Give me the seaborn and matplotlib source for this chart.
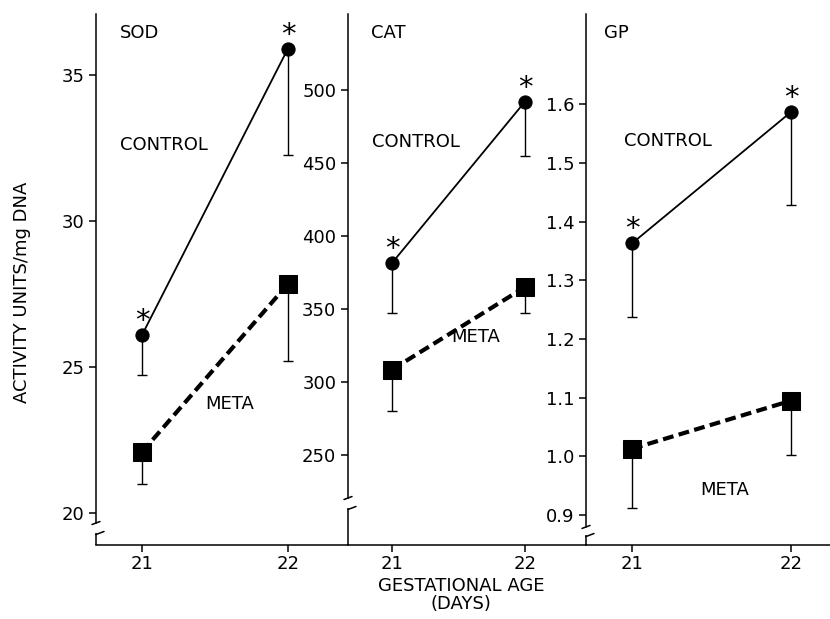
#!/usr/bin/env python3
# Imports
import matplotlib
matplotlib.use('Agg')
import matplotlib.pyplot as plt
import seaborn as sns
import pandas as pd

# Data
days = [21, 22]

sod_control = [26.1, 35.9]
sod_control_low = [24.75, 32.25]
sod_meta = [22.1, 27.85]
sod_meta_low = [21.0, 25.2]

cat_control = [381.5, 492.0]
cat_control_low = [347.5, 455.0]
cat_meta = [308.5, 365.0]
cat_meta_low = [280.0, 347.0]

gp_control = [1.363, 1.587]
gp_control_low = [1.238, 1.429]
gp_meta = [1.013, 1.095]
gp_meta_low = [0.912, 1.002]

panel_names = ['SOD', 'CAT', 'GP']
sod_ticks = [20, 25, 30, 35]
cat_ticks = [250, 300, 350, 400, 450, 500]
gp_ticks = [0.9, 1.0, 1.1, 1.2, 1.3, 1.4, 1.5, 1.6]
x_tick_labels = ['21', '22']


def build_frame(control, control_low, meta, meta_low) -> pd.DataFrame:
    """
    Long table of one panel's means and lower error ends
    """
    return pd.DataFrame({
        'day': days * 2,
        'group': ['CONTROL'] * 2 + ['META'] * 2,
        'mean': control + meta,
        'low': control_low + meta_low,
    })


def draw_break(ax, fig, gap_lo, gap_hi, lw):
    """
    Split the left spine into two pieces with small slanted ends
    """
    y0, y1 = ax.get_ylim()
    hi_data = y0 + gap_hi * (y1 - y0)
    ax.spines['left'].set_bounds(hi_data, y1)
    ax.plot([0, 0], [0, gap_lo], transform=ax.transAxes, color='black',
            lw=lw, clip_on=False, solid_capstyle='butt')
    # pixel size of the axes for the small slanted strokes
    bbox = ax.get_position()
    w_px = bbox.width * fig.get_figwidth() * fig.dpi
    h_px = bbox.height * fig.get_figheight() * fig.dpi
    dx = 4 / w_px
    dy = 1.5 / h_px
    ax.plot([-dx, dx], [gap_hi - dy, gap_hi + dy], transform=ax.transAxes,
            color='black', lw=lw, clip_on=False)
    ax.plot([0, 2 * dx], [gap_lo - dy, gap_lo + dy], transform=ax.transAxes,
            color='black', lw=lw, clip_on=False)


def plot_panel(ax, df, title, ylim, ticks, xlim, fmt):
    control = df[df['group'] == 'CONTROL']
    meta = df[df['group'] == 'META']

    # Lower-only error bars
    for part in (control, meta):
        ax.errorbar(part['day'], part['mean'],
                    yerr=[part['mean'] - part['low'], [0] * len(part)],
                    fmt='none', ecolor='black', elinewidth=1.0,
                    capsize=3.5, capthick=1.0, zorder=2)

    # Control: solid line with filled circles
    sns.lineplot(data=control, x='day', y='mean', ax=ax, color='black',
                 linewidth=1.3, marker='o', markersize=9.5,
                 markeredgecolor='black', zorder=3)

    # Meta: thick dashed line with filled squares
    sns.lineplot(data=meta, x='day', y='mean', ax=ax, color='black',
                 linewidth=3.0, linestyle=(0, (2.6, 1.3)), marker='s',
                 markersize=12.5, markeredgecolor='black', zorder=3)

    # Asterisks above control points
    for d, v in zip(control['day'], control['mean']):
        ax.annotate('*', xy=(d, v), xytext=(0, 0), textcoords='offset points',
                    ha='center', va='bottom', fontsize=21, color='black')

    ax.set_xlim(*xlim)
    ax.set_ylim(*ylim)
    ax.set_yticks(ticks)
    ax.set_yticklabels([fmt.format(t) for t in ticks])
    ax.set_xticks(days)
    ax.set_xticklabels(x_tick_labels)
    ax.set_xlabel('')
    ax.set_ylabel('')
    ax.spines['top'].set_visible(False)
    ax.spines['right'].set_visible(False)
    for side in ('left', 'bottom'):
        ax.spines[side].set_color('black')
    ax.tick_params(axis='both', direction='out', length=5, width=1.1,
                   labelsize=13, color='black', labelcolor='black')
    ax.tick_params(axis='x', pad=2)
    ax.set_facecolor('none')


def main():
    sns.set_style('ticks')
    plt.rcParams['font.family'] = ['DejaVu Sans']
    plt.rcParams['axes.linewidth'] = 1.1
    plt.rcParams['text.color'] = 'black'
    plt.rcParams['axes.edgecolor'] = 'black'

    fig = plt.figure(figsize=(8.30, 6.19), dpi=100)

    # Panel edges in pixels: 96 | 348 | 586 | 830, top 14, bottom 545
    W, H = 830.0, 619.0
    edges = [96, 348, 586, 830]
    top, bottom = 14, 545

    frames = [
        build_frame(sod_control, sod_control_low, sod_meta, sod_meta_low),
        build_frame(cat_control, cat_control_low, cat_meta, cat_meta_low),
        build_frame(gp_control, gp_control_low, gp_meta, gp_meta_low),
    ]
    ylims = [(18.92, 37.08), (188.4, 552.0), (0.849, 1.754)]
    xlims = [(20.685, 22.411), (20.669, 22.459), (20.711, 22.245)]
    tick_sets = [sod_ticks, cat_ticks, gp_ticks]
    fmts = ['{:.0f}', '{:.0f}', '{:.1f}']
    breaks = [(0.0226, 0.0414), (0.0697, 0.0885), (0.0188, 0.034)]

    axes = []
    for i in range(3):
        ax = fig.add_axes([edges[i] / W, 1 - bottom / H,
                           (edges[i + 1] - edges[i]) / W, (bottom - top) / H])
        plot_panel(ax, frames[i], panel_names[i], ylims[i], tick_sets[i],
                   xlims[i], fmts[i])
        draw_break(ax, fig, breaks[i][0], breaks[i][1], 1.1)
        axes.append(ax)

    # Panel titles and group labels (pixel positions)
    def label(x, y, s, ha='left'):
        fig.text(x / W, 1 - y / H, s, ha=ha, va='center', fontsize=13,
                 color='black')

    label(120, 33, 'SOD')
    label(371, 33, 'CAT')
    label(604, 33, 'GP')
    label(120, 145, 'CONTROL')
    label(372, 142, 'CONTROL')
    label(624, 141, 'CONTROL')
    label(205, 404, 'META')
    label(451, 337, 'META')
    label(700, 490, 'META')

    # Axis titles
    fig.text(22 / W, 1 - 292 / H, 'ACTIVITY UNITS/mg DNA', rotation=90,
             ha='center', va='center', fontsize=13, color='black')
    fig.text(461 / W, 1 - 586 / H, 'GESTATIONAL AGE', ha='center',
             va='center', fontsize=13, color='black')
    fig.text(461 / W, 1 - 604 / H, '(DAYS)', ha='center', va='center',
             fontsize=13, color='black')

    fig.savefig('out.png', dpi=100)


if __name__ == "__main__":
    main()
